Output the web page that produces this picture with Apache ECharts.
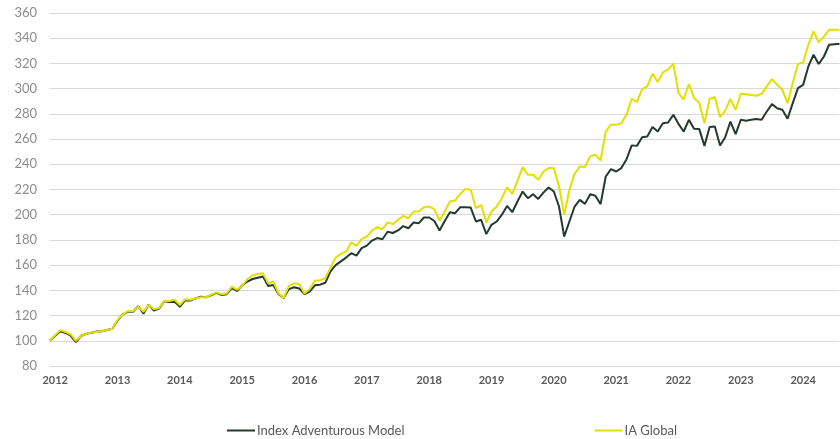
<!DOCTYPE html>
<html>
<head>
<meta charset="utf-8">
<script src="https://cdn.jsdelivr.net/npm/echarts@6/dist/echarts.min.js"></script>
<style>
  html, body { margin: 0; padding: 0; background: #fff; }
  #chart { width: 840px; height: 439px; }
</style>
</head>
<body>
<div id="chart"></div>
<script>
// 月度数据：2011-12 到 2024-08
var startYear = 2011;
var startMonth = 12;
var pointCount = 153;

var seriesNames = ['Index Adventurous Model', 'IA Global'];

var adventurous = [
  100, 104, 107.5, 106.2, 104, 99, 104, 105.5, 106.4, 107.3, 107.5, 108.5, 109.6,
  116, 121, 123, 123, 127.4, 121.5, 128.7, 124, 125.5, 131.4, 130.8,
  131, 127, 132, 132, 133.5, 135, 134.5, 136, 138, 136.4, 137, 141.7,
  139.5, 143.8, 147, 149, 150, 151, 143.5, 144.3, 137, 134, 141, 142.5,
  141.5, 137, 139, 144, 144.5, 146, 155, 160, 163, 166, 169.5, 167.5,
  173.5, 175.5, 179.5, 181.5, 180.5, 186.5, 185.5, 187.5, 191, 189.3, 193.8, 193.3,
  197.8, 197.8, 195, 187.4, 195, 202, 201.2, 206, 206, 205.7, 194.6, 196,
  184.6, 192, 194.6, 200, 207, 202, 210.5, 218.4, 213.1, 216.2, 212.5, 217.5,
  221.6, 218.4, 206.5, 182.7, 194.6, 206.5, 211.8, 208.6, 216.3, 215, 208.4, 230.3,
  236.2, 234.3, 237, 244, 255, 254.6, 261.5, 262, 269.5, 266, 272.6, 273.1,
  279.2, 272.1, 266, 275.3, 268.2, 267.9, 254.6, 269.5, 270, 254.9, 261.5, 273.9,
  263.9, 275.3, 274.5, 275.3, 275.9, 275.3, 281.9, 287.7, 284.5, 283.2, 276.1, 288.5,
  300.4, 303, 317.6, 326.9, 319.5, 325.5, 334.8, 335.3, 335.6
];

var iaGlobal = [
  100, 104.5, 108.5, 107, 105, 100, 104, 105.5, 106.5, 107, 107.5, 108.5, 109.5,
  116.5, 121, 123.5, 123.5, 127, 123, 128.5, 125, 126, 131.5, 131.5,
  132.5, 128.4, 133, 132.5, 133.5, 134.5, 134.5, 136.5, 138.4, 137, 137.5, 143,
  140.5, 143.5, 149, 152, 153, 153.5, 145.6, 147, 137.5, 134, 143.5, 145.6,
  145, 137.5, 141, 147.7, 148, 149.6, 158, 166, 168.9, 170.7, 178, 175.3,
  180.6, 182.7, 187.4, 190.1, 188.5, 193.8, 192.5, 196, 199, 197.2, 202.5, 202.5,
  206, 206.5, 204.4, 195.4, 202.5, 210.5, 211.3, 216.6, 220.5, 219.8, 205.2, 207.8,
  193.8, 202.5, 206.5, 213.1, 221.6, 216.6, 226.9, 237.8, 231.7, 231.7, 227.7, 234.3,
  237, 237, 222.4, 199.9, 219.8, 232.5, 238.3, 237.8, 246.3, 247.6, 243, 266,
  271.4, 271.4, 272.6, 279.5, 292, 289.4, 299.7, 301.8, 311.9, 305.3, 312.9, 315.1,
  319.8, 296.6, 291.3, 303.7, 292.6, 288.7, 272.6, 291.8, 293.4, 277.3, 282.6, 291.8,
  283.3, 295.9, 295.5, 295, 294.4, 295.9, 301.8, 307.6, 303.1, 299.1, 288.5, 304.4,
  319.5, 320.8, 334.8, 345.4, 336.7, 341.5, 346.7, 346.7, 346.7
];

var yTicks = [80, 100, 120, 140, 160, 180, 200, 220, 240, 260, 280, 300, 320, 340, 360];

var colors = ['#223b2e', '#e3df00'];

var months = [];
for (var k = 0; k < pointCount; k++) {
  var m = (startMonth - 1 + k) % 12 + 1;
  var y = startYear + Math.floor((startMonth - 1 + k) / 12);
  months.push(y + '-' + (m < 10 ? '0' + m : m));
}

var chart = echarts.init(document.getElementById('chart'));
var option = {
  animation: false,
  color: colors,
  grid: {
    left: 50,
    right: 0.5,
    top: 13,
    bottom: 73,
    containLabel: false
  },
  legend: {
    data: seriesNames,
    top: 419,
    left: 222,
    itemGap: 190,
    itemWidth: 28,
    itemHeight: 2,
    icon: 'rect',
    textStyle: {
      fontFamily: 'Lato',
      fontSize: 13,
      color: '#595959',
      padding: [0, 0, 0, -3]
    }
  },
  xAxis: {
    type: 'category',
    data: months,
    boundaryGap: false,
    axisLine: { show: true, lineStyle: { color: '#d9d9d9', width: 1 } },
    axisTick: { show: false },
    splitLine: { show: false },
    axisLabel: {
      interval: function (idx, val) { return val.slice(5) === '01'; },
      formatter: function (val) { return val.slice(0, 4); },
      margin: 9,
      fontFamily: 'Lato',
      fontSize: 11,
      fontWeight: 'bold',
      color: '#595959'
    }
  },
  yAxis: {
    type: 'value',
    min: yTicks[0],
    max: yTicks[yTicks.length - 1],
    interval: 20,
    axisLine: { show: false },
    axisTick: { show: false },
    splitLine: { show: true, lineStyle: { color: '#d9d9d9', width: 1 } },
    axisLabel: {
      margin: 13,
      fontFamily: 'Lato',
      fontSize: 13,
      color: '#8c8c8c'
    }
  },
  series: [
    {
      name: seriesNames[0],
      type: 'line',
      data: adventurous,
      symbol: 'none',
      smooth: false,
      lineStyle: { width: 2, color: colors[0] }
    },
    {
      name: seriesNames[1],
      type: 'line',
      data: iaGlobal,
      symbol: 'none',
      smooth: false,
      lineStyle: { width: 2, color: colors[1] }
    }
  ]
};
chart.setOption(option);
</script>
</body>
</html>
